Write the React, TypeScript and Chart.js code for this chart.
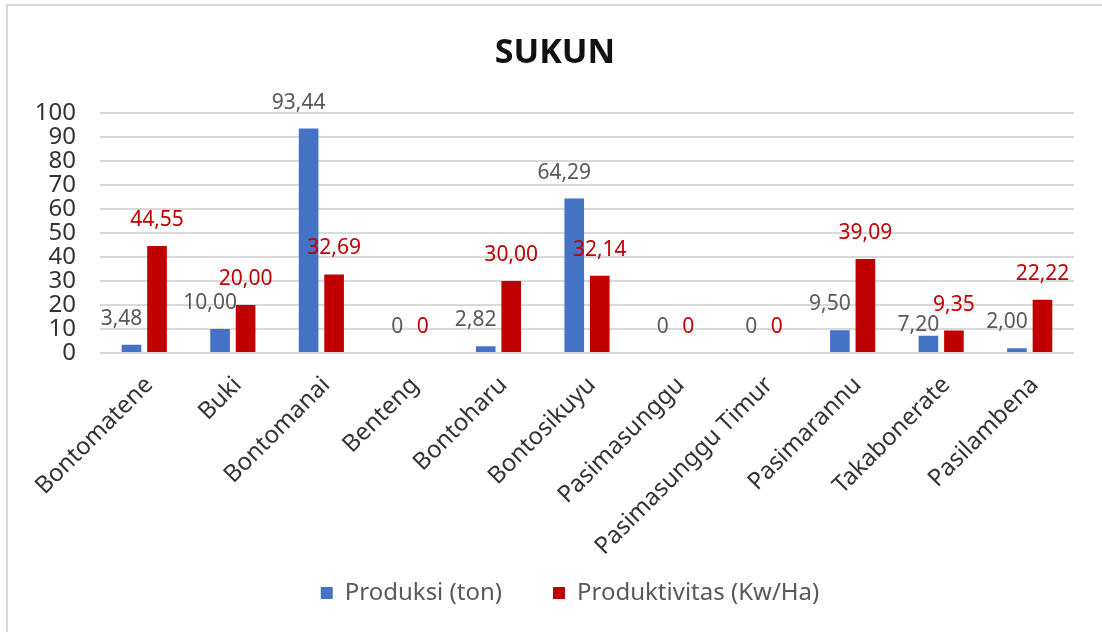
import React, { useEffect, useRef } from 'react';
import { Chart, registerables } from 'chart.js';

Chart.register(...registerables);

const chartTitle = 'SUKUN';
const categories = [
  'Bontomatene',
  'Buki',
  'Bontomanai',
  'Benteng',
  'Bontoharu',
  'Bontosikuyu',
  'Pasimasunggu',
  'Pasimasunggu Timur',
  'Pasimarannu',
  'Takabonerate',
  'Pasilambena',
];
const produksiLabel = 'Produksi (ton)';
const produktivitasLabel = 'Produktivitas (Kw/Ha)';
const produksi = [3.48, 10.0, 93.44, 0, 2.82, 64.29, 0, 0, 9.5, 7.2, 2.0];
const produktivitas = [44.55, 20.0, 32.69, 0, 30.0, 32.14, 0, 0, 39.09, 9.35, 22.22];
const yMin = 0;
const yMax = 100;
const yStep = 10;

const BLUE = '#4472C4';
const RED = '#C00000';
const FONT = '"Noto Sans", "Open Sans", sans-serif';

const fmt = (v: number) => (v === 0 ? '0' : v.toFixed(2).replace('.', ','));

const borderPlugin = {
  id: 'frameBorder',
  beforeDraw(chart: any) {
    const ctx = chart.ctx;
    ctx.save();
    ctx.fillStyle = '#FFFFFF';
    ctx.fillRect(0, 0, chart.width, chart.height);
    ctx.fillStyle = '#D9D9D9';
    ctx.fillRect(6, 4, chart.width - 6, 2);
    ctx.fillRect(6, 4, 2, chart.height - 4);
    ctx.restore();
  },
};

const shiftPlugin = {
  id: 'shiftBoxes',
  afterLayout(chart: any) {
    const t = chart.titleBlock;
    if (t) {
      t.left += 18;
      t.right += 18;
    }
    const l = chart.legend;
    if (l) {
      l.left += 33;
      l.right += 33;
    }
    const x = chart.scales.x;
    if (x) {
      x.bottom += 40;
      x.height += 40;
    }
  },
};

const dataLabelPlugin = {
  id: 'barValueLabels',
  afterDatasetsDraw(chart: any) {
    const ctx = chart.ctx;
    const m0 = chart.getDatasetMeta(0);
    const m1 = chart.getDatasetMeta(1);
    ctx.save();
    ctx.font = `21px ${FONT}`;
    ctx.textAlign = 'center';
    ctx.textBaseline = 'middle';
    m0.data.forEach((bar0: any, i: number) => {
      const bar1 = m1.data[i];
      const v0 = produksi[i];
      const v1 = produktivitas[i];
      const t0 = fmt(v0);
      const t1 = fmt(v1);
      const x0 = bar0.x + (v0 === 0 ? 0 : -10);
      let y0 = bar0.y - 26;
      const x1 = bar1.x;
      const y1 = bar1.y - 26;
      const w0 = ctx.measureText(t0).width;
      const w1 = ctx.measureText(t1).width;
      const hOverlap = x0 + w0 / 2 > x1 - w1 / 2;
      if (hOverlap && Math.abs(y0 - y1) < 20) {
        y0 = y1 + 20;
      }
      ctx.fillStyle = '#595959';
      ctx.fillText(t0, x0, y0);
      ctx.fillStyle = RED;
      ctx.fillText(t1, x1, y1);
    });
    ctx.restore();
  },
};

export default function App() {
  const canvasRef = useRef<HTMLCanvasElement | null>(null);

  useEffect(() => {
    if (!canvasRef.current) return;
    const chart = new Chart(canvasRef.current, {
      type: 'bar',
      data: {
        labels: categories,
        datasets: [
          {
            label: produksiLabel,
            data: produksi,
            backgroundColor: BLUE,
            borderWidth: 0,
            categoryPercentage: 0.576,
            barPercentage: 0.77,
          },
          {
            label: produktivitasLabel,
            data: produktivitas,
            backgroundColor: RED,
            borderWidth: 0,
            categoryPercentage: 0.576,
            barPercentage: 0.77,
          },
        ],
      },
      options: {
        responsive: false,
        animation: false,
        devicePixelRatio: 1,
        layout: { padding: { left: 0, right: 28, top: 0, bottom: 17 } },
        plugins: {
          title: {
            display: true,
            text: chartTitle,
            color: '#111111',
            font: { family: FONT, size: 34, weight: 'bold' },
            padding: { top: 33, bottom: 39 },
          },
          legend: {
            display: true,
            position: 'bottom',
            labels: {
              color: '#595959',
              font: { family: FONT, size: 24 },
              boxWidth: 12,
              boxHeight: 12,
              padding: 51,
            },
          },
          tooltip: { enabled: false },
        },
        scales: {
          x: {
            grid: { display: false },
            border: { display: false },
            ticks: {
              autoSkip: false,
              minRotation: 45,
              maxRotation: 45,
              padding: 10,
              labelOffset: 5,
              color: '#333333',
              font: { family: FONT, size: 24 },
            },
            afterFit(scale: any) {
              scale.height = 177;
            },
          },
          y: {
            min: yMin,
            max: yMax,
            border: { display: false },
            grid: { color: '#D9D9D9', lineWidth: 2, drawTicks: false },
            ticks: {
              stepSize: yStep,
              autoSkip: false,
              padding: 24,
              color: '#333333',
              font: { family: FONT, size: 24 },
            },
            afterFit(scale: any) {
              scale.width = 100;
            },
          },
        },
      },
      plugins: [borderPlugin, shiftPlugin, dataLabelPlugin],
    } as any);
    return () => chart.destroy();
  }, []);

  return (
    <div style={{ position: 'absolute', left: 0, top: 0, width: 1102, height: 632 }}>
      <canvas ref={canvasRef} width={1102} height={632} />
    </div>
  );
}
